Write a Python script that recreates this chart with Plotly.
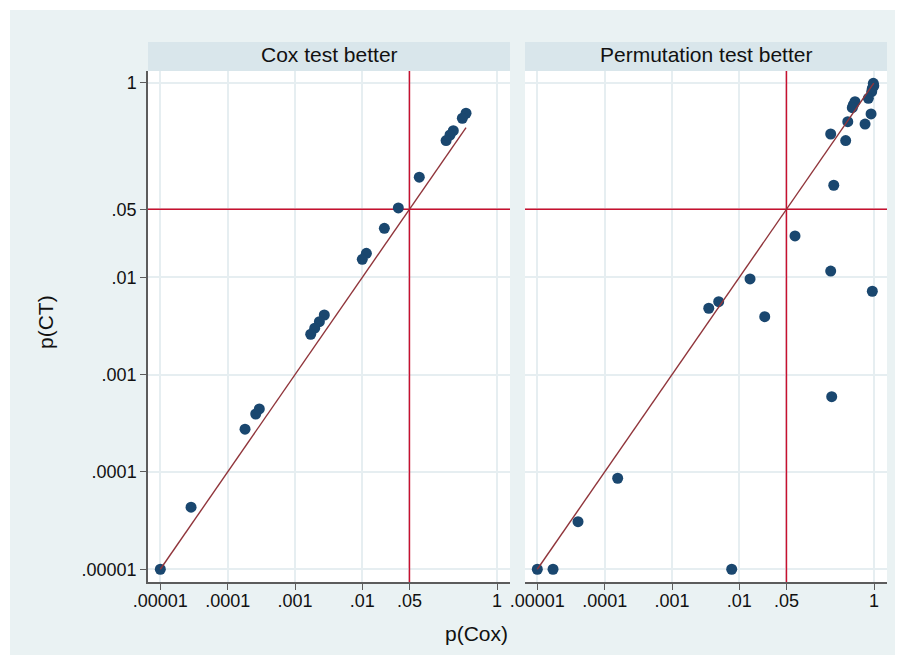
import plotly.graph_objects as go

# ---- data -------------------------------------------------------------
panel_titles = ["Cox test better", "Permutation test better"]
tick_vals = [0.00001, 0.0001, 0.001, 0.01, 0.05, 1]
tick_text = [".00001", ".0001", ".001", ".01", ".05", "1"]
threshold = 0.05

cox_better_pcox = [0.346, 0.305, 0.224, 0.200, 0.175, 0.070, 0.0342, 0.0212,
                   0.01146, 0.00997, 0.00272, 0.0023, 0.00196, 0.00171,
                   0.000295, 0.000261, 0.000181, 0.0000286, 0.00001]
cox_better_pct = [0.485, 0.431, 0.321, 0.290, 0.254, 0.107, 0.0516, 0.0319,
                  0.01766, 0.01532, 0.0041, 0.0035, 0.0030, 0.0026,
                  0.000444, 0.000394, 0.000275, 0.0000434, 0.00001]

perm_better_pcox = [0.975, 0.99, 0.942, 0.922, 0.822, 0.521, 0.492, 0.475,
                    0.902, 0.407, 0.735, 0.227, 0.379, 0.252, 0.067, 0.227,
                    0.942, 0.0144, 0.00493, 0.00351, 0.0238, 0.235,
                    0.000156, 0.0000402, 0.00001, 0.0000171, 0.00769]
perm_better_pct = [0.986, 0.93, 0.876, 0.808, 0.691, 0.638, 0.590, 0.554,
                   0.477, 0.397, 0.376, 0.297, 0.254, 0.0883, 0.0266, 0.0116,
                   0.00719, 0.00962, 0.00562, 0.00481, 0.00394, 0.000594,
                   0.0000861, 0.0000308, 0.00001, 0.00001, 0.00001]

# ---- style ------------------------------------------------------------
W, H = 905, 665
ML, MR, MT, MB = 148, 18, 71, 83
PW, PH = W - ML - MR, H - MT - MB
NAVY = "#1A476F"
MAROON = "#90353B"
CRANBERRY = "#C8102E"
OUTER = "#EAF2F3"
HEADER = "#D9E6EB"
GRID = "#E6EEF1"
AXIS = "#5C5C5C"
TEXT = "#111111"
FONT = "Liberation Sans, Arial, sans-serif"

xrange = [-5.183, 0.192]
yrange = [-5.131, 0.120]


def px_x(p):
    return (p - ML) / PW


def px_y(p):
    return (H - MB - p) / PH


fig = go.Figure()

panels = [(cox_better_pcox, cox_better_pct, "x", "y"),
          (perm_better_pcox, perm_better_pct, "x2", "y2")]

for xs, ys, xa, ya in panels:
    # reference lines at p = .05 (spanning the whole axis range)
    fig.add_trace(go.Scatter(x=[threshold, threshold], y=[10 ** yrange[0], 10 ** yrange[1]],
                             mode="lines", xaxis=xa, yaxis=ya,
                             line=dict(color=CRANBERRY, width=1.5),
                             showlegend=False, hoverinfo="skip"))
    fig.add_trace(go.Scatter(x=[10 ** xrange[0], 10 ** xrange[1]], y=[threshold, threshold],
                             mode="lines", xaxis=xa, yaxis=ya,
                             line=dict(color=CRANBERRY, width=1.5),
                             showlegend=False, hoverinfo="skip"))
    fig.add_trace(go.Scatter(x=xs, y=ys, mode="markers", xaxis=xa, yaxis=ya,
                             marker=dict(color=NAVY, size=11, line=dict(width=0)),
                             showlegend=False, hoverinfo="x+y"))
    lo, hi = min(xs), max(xs)
    fig.add_trace(go.Scatter(x=[lo, hi], y=[lo, hi], mode="lines", xaxis=xa, yaxis=ya,
                             line=dict(color=MAROON, width=1.4),
                             showlegend=False, hoverinfo="skip"))

shapes = []
# white outer border around the light background
for x0, x1, y0, y1 in [(0, W, 0, 10), (0, W, H - 10, H), (0, 10, 0, H), (W - 10, W, 0, H)]:
    shapes.append(dict(type="rect", xref="paper", yref="paper",
                       x0=px_x(x0), x1=px_x(x1), y0=px_y(y1), y1=px_y(y0),
                       fillcolor="white", line=dict(width=0), layer="above"))

# header strips above each panel
for x0, x1 in [(148, 510), (525, 887)]:
    shapes.append(dict(type="rect", xref="paper", yref="paper",
                       x0=px_x(x0), x1=px_x(x1), y0=px_y(71), y1=px_y(42),
                       fillcolor=HEADER, line=dict(width=0), layer="below"))

annotations = []
for (x0, x1), title in zip([(148, 510), (525, 887)], panel_titles):
    annotations.append(dict(text=title, xref="paper", yref="paper",
                            x=px_x((x0 + x1) / 2), y=px_y(54.5),
                            xanchor="center", yanchor="middle",
                            showarrow=False, font=dict(size=21, color=TEXT, family=FONT)))

annotations.append(dict(text="p(Cox)", xref="paper", yref="paper",
                        x=px_x(476), y=px_y(633), xanchor="center", yanchor="middle",
                        showarrow=False, font=dict(size=21, color=TEXT, family=FONT)))
annotations.append(dict(text="p(CT)", xref="paper", yref="paper",
                        x=px_x(45), y=px_y(322), xanchor="center", yanchor="middle",
                        textangle=-90, showarrow=False,
                        font=dict(size=21, color=TEXT, family=FONT)))

common_x = dict(type="log", range=xrange, tickvals=tick_vals, ticktext=tick_text,
                showline=True, linecolor=AXIS, linewidth=1.5, ticks="outside",
                ticklen=6, tickwidth=1.3, tickcolor=AXIS, showgrid=True,
                gridcolor=GRID, gridwidth=1.5, zeroline=False, mirror=False,
                ticklabelstandoff=-4,
                tickfont=dict(size=18, color=TEXT, family=FONT))

fig.update_layout(
    width=W, height=H,
    margin=dict(l=ML, r=MR, t=MT, b=MB, pad=0),
    paper_bgcolor=OUTER, plot_bgcolor="white",
    font=dict(family=FONT),
    xaxis=dict(domain=[0, px_x(510)], anchor="y", **common_x),
    xaxis2=dict(domain=[px_x(525), 1], anchor="y2", **common_x),
    yaxis=dict(domain=[0, 1], anchor="x", type="log", range=yrange,
               tickvals=tick_vals, ticktext=tick_text,
               showline=True, linecolor=AXIS, linewidth=1.5, ticks="outside",
               ticklen=6, tickwidth=1.3, tickcolor=AXIS, showgrid=True,
               gridcolor=GRID, gridwidth=1.5, zeroline=False,
               tickfont=dict(size=18, color=TEXT, family=FONT)),
    yaxis2=dict(domain=[0, 1], anchor="x2", type="log", range=yrange,
                tickvals=tick_vals, showticklabels=False, showline=False,
                ticks="", showgrid=True, gridcolor=GRID, gridwidth=1.5,
                zeroline=False),
    shapes=shapes,
    annotations=annotations,
    showlegend=False,
)

fig.write_html("out.html", config={"displayModeBar": False},
               post_script="document.body.style.margin='0px';document.body.style.padding='0px';")
